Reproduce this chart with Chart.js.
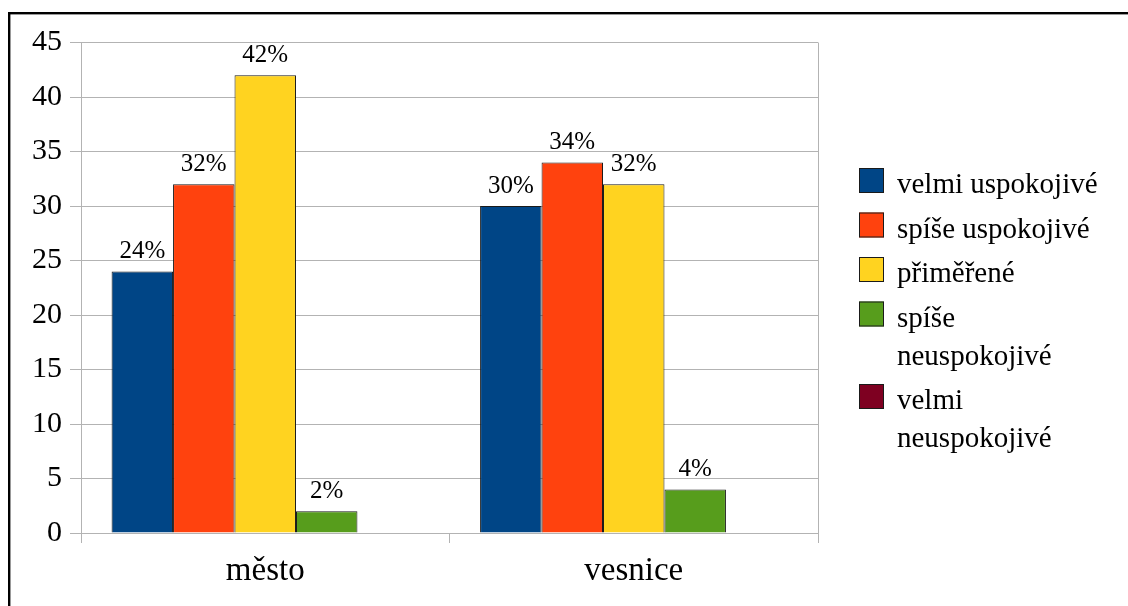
<!DOCTYPE html>
<html lang="cs">
<head>
<meta charset="UTF-8">
<title>Hodnocení – město a vesnice</title>
<script src="https://cdn.jsdelivr.net/npm/chart.js"></script>
<style>
  html, body { margin: 0; padding: 0; background: #fff; }
  #obal { width: 1128px; height: 606px; }
</style>
</head>
<body>
<div id="obal"><canvas id="graf"></canvas></div>
<script>
// data
const kategorie = ['město', 'vesnice'];
const nazvyRad = ['velmi uspokojivé', 'spíše uspokojivé', 'přiměřené', 'spíše neuspokojivé', 'velmi neuspokojivé'];
const velmiUspokojive = [24, 30];
const spiseUspokojive = [32, 34];
const primerene = [42, 32];
const spiseNeuspokojive = [2, 4];
const velmiNeuspokojive = [0, 0];
const barvy = ['#004586', '#ff420e', '#ffd320', '#579d1c', '#7e0021'];
const osaY = { min: 0, max: 45, krok: 5 };

const hodnoty = [velmiUspokojive, spiseUspokojive, primerene, spiseNeuspokojive, velmiNeuspokojive];
const PISMO = "'Liberation Serif', 'DejaVu Serif', serif";
const MRIZKA = '#b3b3b3';

// černý rámeček nahoře a vlevo
const ramecek = {
    id: 'ramecek',
    afterDraw(chart) {
        const ctx = chart.ctx;
        ctx.save();
        ctx.fillStyle = '#000';
        ctx.fillRect(8, 12, chart.width - 8, 2.4);
        ctx.fillRect(8, 12, 2.4, chart.height - 12);
        ctx.restore();
    }
};

// procenta nad sloupci
const popisky = {
    id: 'popisky',
    afterDatasetsDraw(chart) {
        const ctx = chart.ctx;
        ctx.save();
        ctx.font = '25px ' + PISMO;
        ctx.fillStyle = '#000';
        ctx.textAlign = 'center';
        ctx.textBaseline = 'alphabetic';
        chart.data.datasets.forEach((ds, i) => {
            chart.getDatasetMeta(i).data.forEach((sloupec, j) => {
                const v = ds.data[j];
                if (!v) return;
                ctx.fillText(v + '%', sloupec.x, sloupec.y - 13.5);
            });
        });
        ctx.restore();
    }
};

function zalomit(ctx, text, maxSirka) {
    const slova = text.split(' ');
    const radky = [];
    let radek = '';
    slova.forEach(s => {
        const zkus = radek ? radek + ' ' + s : s;
        if (radek && ctx.measureText(zkus).width > maxSirka) {
            radky.push(radek);
            radek = s;
        } else {
            radek = zkus;
        }
    });
    radky.push(radek);
    return radky;
}

// legenda vpravo, dlouhé názvy se zalomí
const legenda = {
    id: 'legenda',
    afterDraw(chart) {
        const ctx = chart.ctx;
        const box = 25, mezera = 13, radek = 38, krok = 44.5;
        const x0 = chart.chartArea.right + 41;
        const maxSirka = chart.width - (x0 + box + mezera) - 24;
        ctx.save();
        ctx.font = '29px ' + PISMO;
        const polozky = chart.data.datasets.map(ds => ({
            barva: ds.backgroundColor,
            radky: zalomit(ctx, ds.label, maxSirka)
        }));
        const vyska = polozky.reduce((s, p) => s + krok + (p.radky.length - 1) * radek, 0);
        let y = Math.round((chart.height - vyska) / 2 + 14);
        ctx.textAlign = 'left';
        ctx.textBaseline = 'alphabetic';
        polozky.forEach(p => {
            ctx.fillStyle = p.barva;
            ctx.fillRect(x0, y, box, box);
            ctx.strokeStyle = '#1a1a1a';
            ctx.lineWidth = 1;
            ctx.strokeRect(x0 + 0.5, y + 0.5, box - 1, box - 1);
            ctx.fillStyle = '#000';
            p.radky.forEach((t, k) => {
                ctx.fillText(t, x0 + box + mezera, y + box + k * radek);
            });
            y += krok + (p.radky.length - 1) * radek;
        });
        ctx.restore();
    }
};

new Chart(document.getElementById('graf'), {
    type: 'bar',
    data: {
        labels: kategorie,
        datasets: nazvyRad.map((nazev, i) => ({
            label: nazev,
            data: hodnoty[i],
            backgroundColor: barvy[i],
            borderColor: '#1a1a1a',
            borderWidth: 1,
            categoryPercentage: 0.834,
            barPercentage: 1
        }))
    },
    options: {
        responsive: true,
        maintainAspectRatio: false,
        animation: false,
        layout: { padding: { top: 42.5, right: 310, bottom: 0, left: 0 } },
        plugins: {
            legend: { display: false },
            tooltip: { enabled: false }
        },
        scales: {
            x: {
                afterFit(scale) { scale.height = 73; },
                grid: {
                    offset: true,
                    // svislé čáry jen na krajích, uprostřed pouze značka pod osou
                    color: c => c.index === 1 ? 'rgba(0,0,0,0)' : MRIZKA,
                    tickColor: MRIZKA,
                    tickLength: 10
                },
                border: { color: MRIZKA },
                ticks: {
                    color: '#000',
                    padding: 9,
                    font: { family: PISMO, size: 33 }
                }
            },
            y: {
                min: osaY.min,
                max: osaY.max,
                afterFit(scale) { scale.width = 81; },
                grid: { color: MRIZKA, tickColor: MRIZKA, tickLength: 11 },
                border: { color: MRIZKA },
                ticks: {
                    stepSize: osaY.krok,
                    color: '#000',
                    padding: 8,
                    font: { family: PISMO, size: 30 }
                }
            }
        }
    },
    plugins: [popisky, legenda, ramecek]
});
</script>
</body>
</html>
